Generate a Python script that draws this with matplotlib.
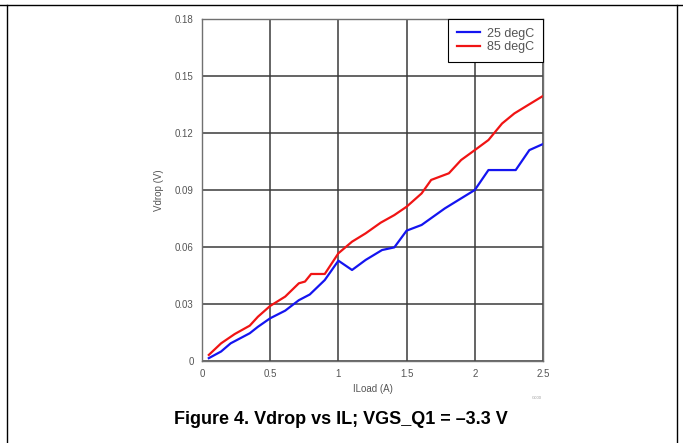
import matplotlib
matplotlib.use("Agg")
import matplotlib.pyplot as plt
from matplotlib.lines import Line2D

plt.rcParams['font.family'] = ['Liberation Sans', 'DejaVu Sans']

# Data
i_25 = [0.05, 0.14, 0.21, 0.35, 0.41, 0.50, 0.61, 0.71, 0.79, 0.90, 1.00,
        1.10, 1.20, 1.32, 1.41, 1.50, 1.61, 1.78, 1.90, 2.00, 2.10, 2.30,
        2.40, 2.50]
v_25 = [0.0015, 0.005, 0.0093, 0.0146, 0.018, 0.0225, 0.0265, 0.032, 0.035,
        0.0426, 0.0528, 0.0479, 0.0532, 0.0584, 0.0598, 0.0686, 0.0716,
        0.0803, 0.0856, 0.090, 0.1005, 0.1005, 0.111, 0.1142]

i_85 = [0.05, 0.14, 0.24, 0.35, 0.41, 0.50, 0.61, 0.71, 0.755, 0.80, 0.90,
        1.00, 1.10, 1.20, 1.31, 1.41, 1.50, 1.61, 1.68, 1.81, 1.90, 2.00,
        2.10, 2.20, 2.29, 2.39, 2.50]
v_85 = [0.0032, 0.0093, 0.0142, 0.0186, 0.0233, 0.029, 0.0339, 0.0409,
        0.0418, 0.0458, 0.0458, 0.0567, 0.0628, 0.0672, 0.0728, 0.0768,
        0.0812, 0.0882, 0.0953, 0.0988, 0.1058, 0.111, 0.1163, 0.125,
        0.1303, 0.1347, 0.1395]

x_ticks = [0, 0.5, 1, 1.5, 2, 2.5]
x_labels = ["0", "0.5", "1", "1.5", "2", "2.5"]
y_ticks = [0, 0.03, 0.06, 0.09, 0.12, 0.15, 0.18]
y_labels = ["0", "0.03", "0.06", "0.09", "0.12", "0.15", "0.18"]

W, H = 683, 443
fig = plt.figure(figsize=(W / 100, H / 100), dpi=100)
ax = fig.add_axes([202 / W, (H - 361) / H, (543 - 202) / W, (361 - 19) / H])

ax.plot(i_25, v_25, color='#1414f0', lw=1.6, label='25 degC')
ax.plot(i_85, v_85, color='#f01414', lw=1.6, label='85 degC')

ax.set_xlim(0, 2.5)
ax.set_ylim(0, 0.18)
ax.set_xticks(x_ticks)
ax.set_xticklabels(x_labels)
ax.set_yticks(y_ticks)
ax.set_yticklabels(y_labels)
ax.grid(True, color='#3a3a3a', lw=1.1)
ax.set_axisbelow(True)
ax.tick_params(length=0, labelsize=7, labelcolor='#555555', pad=6)
for s in ax.spines.values():
    s.set_color('#707070')
    s.set_linewidth(1.0)

ax.set_xlabel("ILoad (A)", fontsize=7, color='#555555', labelpad=3)
ax.set_ylabel("Vdrop (V)", fontsize=7, color='#555555', labelpad=8)

leg = ax.legend(loc='upper right', fontsize=9, fancybox=False,
                edgecolor='black', borderaxespad=0, framealpha=1,
                borderpad=0.7, handlelength=1.8, handletextpad=0.6,
                labelspacing=0.1)
leg.get_frame().set_linewidth(0.8)
for t in leg.get_texts():
    t.set_color('#555555')

fig.text(537 / W, 1 - 398 / H, "G000", fontsize=3, color='#999999',
         ha='center', va='center')
fig.text(341 / W, 1 - 420 / H, "Figure 4. Vdrop vs IL; VGS_Q1 = \u20133.3 V",
         fontsize=13, fontweight='bold', ha='center', va='center')

# table cell borders
fig.add_artist(Line2D([0, 1], [1 - 5 / H, 1 - 5 / H], color='black', lw=1))
fig.add_artist(Line2D([7 / W, 7 / W], [0, 1 - 5 / H], color='black', lw=1))
fig.add_artist(Line2D([677 / W, 677 / W], [0, 1 - 5 / H], color='black', lw=1))

fig.savefig("out.png", dpi=100)
